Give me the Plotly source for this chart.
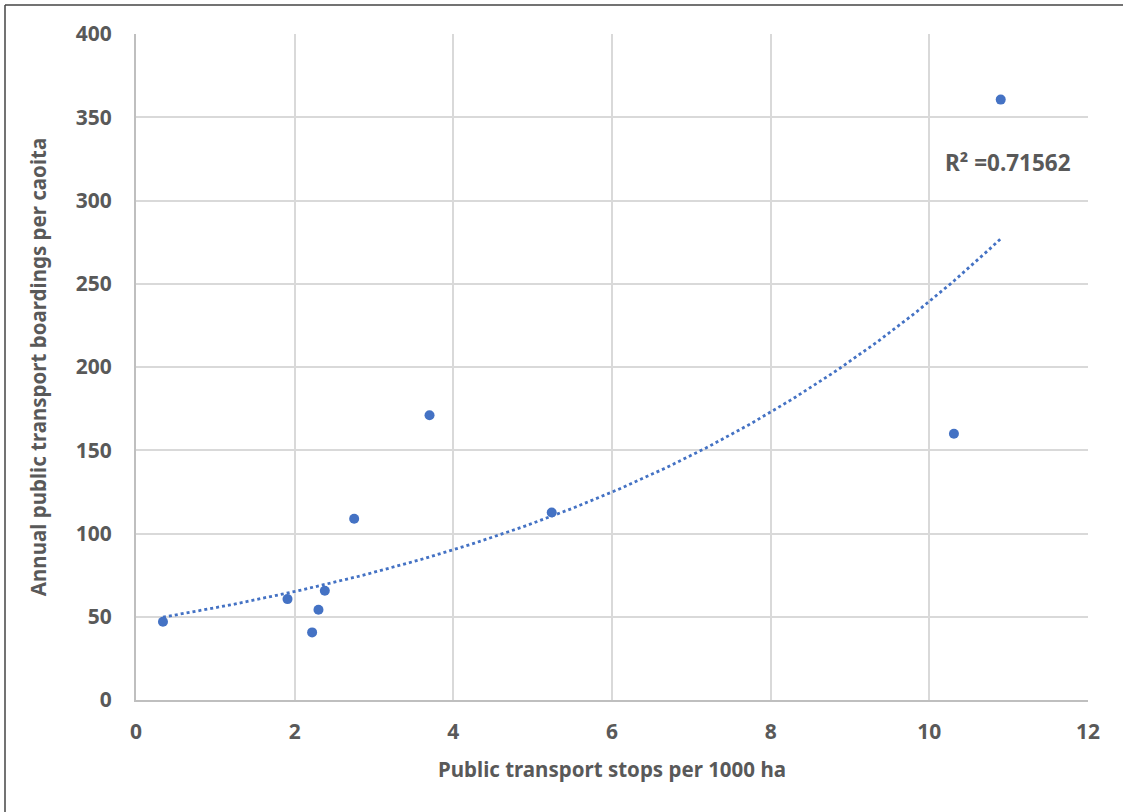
import numpy as np
import plotly.graph_objects as go

# Data
stops_per_1000ha = [0.34, 1.91, 2.22, 2.30, 2.38, 2.75, 3.70, 5.24, 10.31, 10.90]
boardings_per_capita = [47.0, 60.6, 40.6, 54.2, 65.6, 108.9, 171.0, 112.6, 159.9, 360.6]
x_ticks = [0, 2, 4, 6, 8, 10, 12]
y_ticks = [0, 50, 100, 150, 200, 250, 300, 350, 400]
r2_label = "R² =0.71562"
x_title = "Public transport stops per 1000 ha"
y_title = "Annual public transport boardings per caoita"

# Exponential trendline (Excel style: fit on ln(y))
xs = np.array(stops_per_1000ha)
ys = np.array(boardings_per_capita)
b, ln_a = np.polyfit(xs, np.log(ys), 1)
tx = np.linspace(xs.min(), xs.max(), 200)
ty = np.exp(ln_a) * np.exp(b * tx)

BLUE = "#4472C4"
GRAY = "#595959"
FONT = "Noto Sans"

fig = go.Figure()
fig.add_trace(go.Scatter(x=tx, y=ty, mode="lines",
                         line=dict(color=BLUE, width=2.8, dash="dot"),
                         hoverinfo="skip", showlegend=False))
fig.add_trace(go.Scatter(x=stops_per_1000ha, y=boardings_per_capita, mode="markers",
                         marker=dict(color=BLUE, size=10, line=dict(width=0)),
                         showlegend=False))

axis_common = dict(showgrid=True, gridcolor="#D9D9D9", gridwidth=2,
                   showline=True, linecolor="#BFBFBF", linewidth=2,
                   zeroline=False, ticks="",
                   tickfont=dict(family=FONT, size=21, color=GRAY, weight="bold"))

fig.update_xaxes(range=[0, 12], tickvals=x_ticks, ticktext=[str(v) for v in x_ticks],
                 ticklabelstandoff=12,
                 title=dict(text=x_title, standoff=18,
                            font=dict(family=FONT, size=20.5, color=GRAY, weight="bold")),
                 **axis_common)
fig.update_yaxes(range=[0, 400], tickvals=y_ticks, ticktext=[str(v) for v in y_ticks],
                 ticklabelstandoff=18,
                 title=dict(text=y_title, standoff=24,
                            font=dict(family=FONT, size=20.5, color=GRAY, weight="bold")),
                 **axis_common)

fig.add_annotation(x=10.99, y=323, xref="x", yref="y", text=r2_label, showarrow=False,
                   xanchor="center", yanchor="middle",
                   font=dict(family=FONT, size=22.5, color=GRAY, weight="bold"))

# outer chart border (top and left visible)
fig.add_shape(type="line", xref="paper", yref="paper",
              x0=(5 - 136) / 952, x1=1.1, y0=(700 - 5) / 666, y1=(700 - 5) / 666,
              line=dict(color="#444444", width=1.5))
fig.add_shape(type="line", xref="paper", yref="paper",
              x0=(5 - 136) / 952, x1=(5 - 136) / 952, y0=(700 - 5) / 666, y1=-0.2,
              line=dict(color="#444444", width=1.5))

fig.update_layout(width=1123, height=812,
                  margin=dict(l=136, r=35, t=34, b=112),
                  paper_bgcolor="white", plot_bgcolor="white")

fig.write_html("out.html", config={"displayModeBar": False},
               post_script="document.body.style.margin='0';document.body.style.overflow='hidden';")
